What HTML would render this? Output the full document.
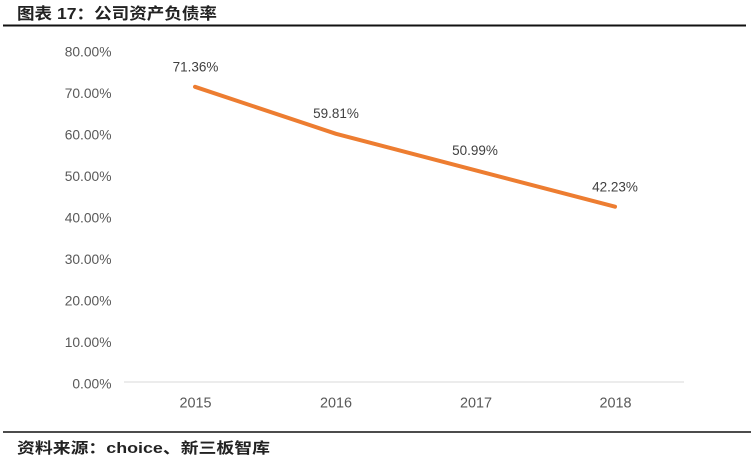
<!DOCTYPE html>
<html>
<head>
<meta charset="utf-8">
<style>
html,body{margin:0;padding:0;background:#fff;}
svg{display:block;}
</style>
</head>
<body>
<svg width="751" height="460" viewBox="0 0 751 460" xmlns="http://www.w3.org/2000/svg">
<rect width="751" height="460" fill="#fff"/>
<!-- title -->
<text x="17" y="19" font-family="'Liberation Sans','Noto Sans CJK SC',sans-serif" font-weight="bold" font-size="16" fill="#222" textLength="200" lengthAdjust="spacingAndGlyphs">图表 17：公司资产负债率</text>
<line x1="3" y1="25.5" x2="746" y2="25.5" stroke="#111" stroke-width="2"/>

<!-- y axis labels -->
<g font-family="'Liberation Sans',sans-serif" font-size="13.8" fill="#595959" text-anchor="end">
<text x="111.5" y="56.7">80.00%</text>
<text x="111.5" y="98.2">70.00%</text>
<text x="111.5" y="139.7">60.00%</text>
<text x="111.5" y="181.2">50.00%</text>
<text x="111.5" y="222.7">40.00%</text>
<text x="111.5" y="264.2">30.00%</text>
<text x="111.5" y="305.7">20.00%</text>
<text x="111.5" y="347.2">10.00%</text>
<text x="111.5" y="388.7">0.00%</text>
</g>

<!-- axis line -->
<line x1="124" y1="382" x2="684" y2="382" stroke="#d9d9d9" stroke-width="1"/>

<!-- x labels -->
<g font-family="'Liberation Sans',sans-serif" font-size="14.4" fill="#595959" text-anchor="middle">
<text x="195.5" y="407.3">2015</text>
<text x="336" y="407.3">2016</text>
<text x="476" y="407.3">2017</text>
<text x="615.5" y="407.3">2018</text>
</g>

<!-- series -->
<polyline points="195,86.8 336,133.8 476,170.4 615,206.7" fill="none" stroke="#ED7D31" stroke-width="4" stroke-linecap="round" stroke-linejoin="round"/>

<!-- data labels -->
<g font-family="'Liberation Sans',sans-serif" font-size="13.5" fill="#404040" text-anchor="middle">
<text x="195.5" y="71.7">71.36%</text>
<text x="336" y="118">59.81%</text>
<text x="475" y="155">50.99%</text>
<text x="615" y="191.5">42.23%</text>
</g>

<!-- footer -->
<line x1="3" y1="432" x2="751" y2="432" stroke="#111" stroke-width="1.5"/>
<text x="17" y="453" font-family="'Liberation Sans','Noto Sans CJK SC',sans-serif" font-weight="bold" font-size="15" fill="#222" textLength="253" lengthAdjust="spacingAndGlyphs">资料来源：choice、新三板智库</text>
</svg>
</body>
</html>
